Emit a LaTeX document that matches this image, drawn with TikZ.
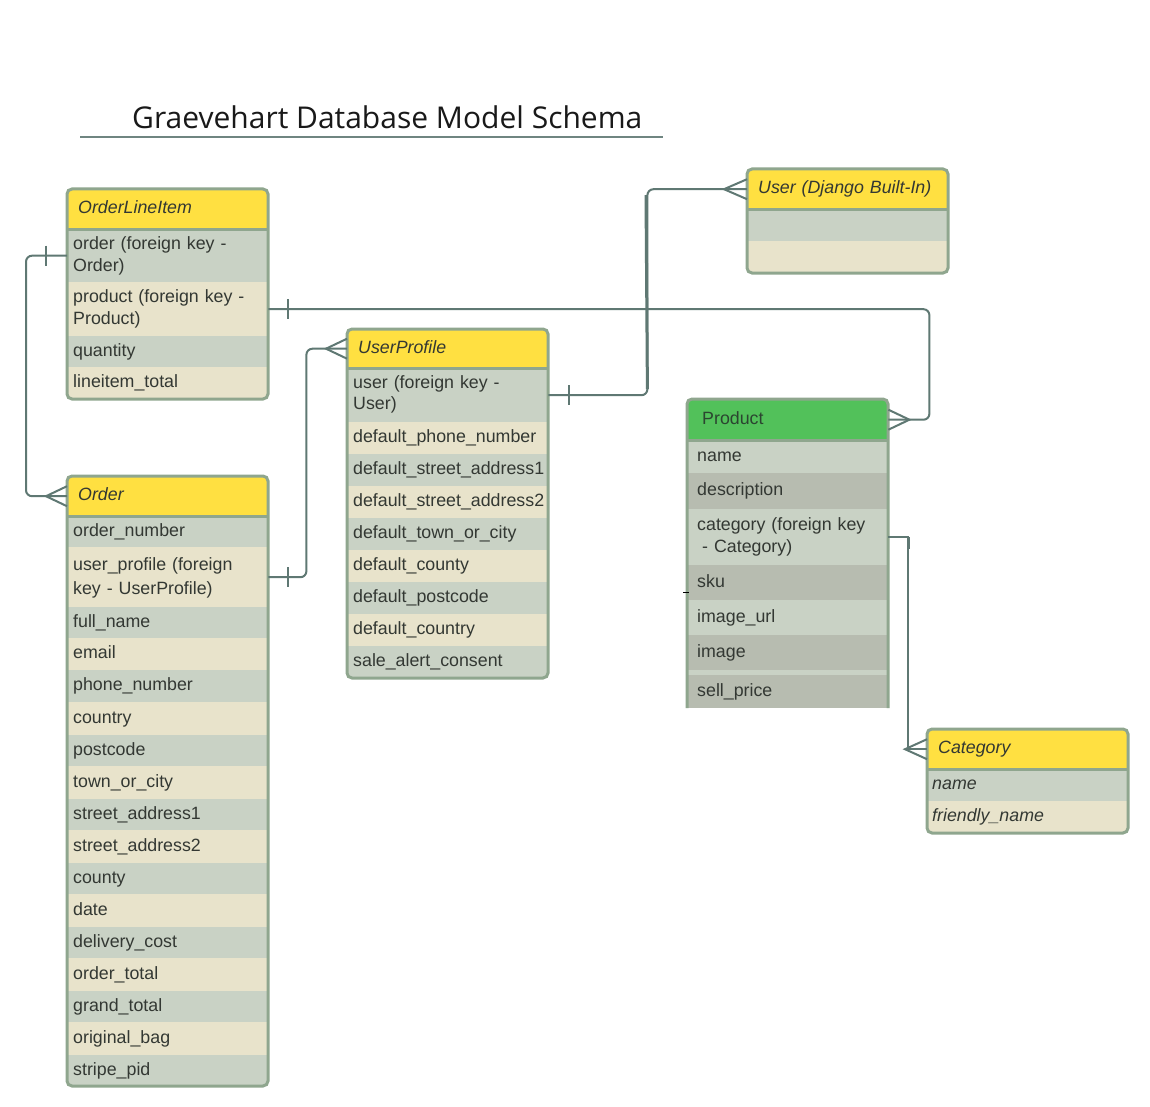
\documentclass[tikz,border=0pt]{standalone}
\usepackage{fontspec}
\setmainfont{Liberation Sans}
\newfontfamily\titlefont{Open Sans}
\usetikzlibrary{calc}
\definecolor{cg}{HTML}{C9D2C5}
\definecolor{bg}{HTML}{E8E3CB}
\definecolor{dg}{HTML}{B7BCB0}
\definecolor{yl}{HTML}{FFE041}
\definecolor{gr}{HTML}{52C15A}
\definecolor{bord}{HTML}{8FA68E}
\definecolor{lc}{HTML}{5F7873}
\definecolor{txt}{HTML}{333833}
\definecolor{ptxt}{HTML}{2B4530}
\tikzset{
  cell/.style={anchor=north west, inner ysep=0pt, align=left, text=txt,
    font=\fontsize{17.8}{22}\selectfont,
    execute at begin node=\strut, execute at end node=\strut},
  row/.style={cell, inner xsep=6pt, text width=189pt},
  prow/.style={cell, inner xsep=10pt, text width=181pt},
  crow/.style={cell, inner xsep=5pt, text width=191pt, font=\fontsize{17.8}{22}\selectfont\itshape},
  hdr/.style={cell, fill=yl, inner xsep=11pt, text width=179pt, minimum height=40pt, font=\fontsize{17.8}{22}\selectfont\itshape},
  phdr/.style={cell, fill=gr, inner xsep=15pt, text width=171pt, minimum height=41pt, text=ptxt},
  frame/.style={draw=bord, line width=3pt, rounded corners=5pt},
  sep/.style={draw=bord, line width=3pt},
  link/.style={draw=lc, line width=2pt, rounded corners=6pt},
  foot/.style={draw=lc, line width=2pt},
  uline/.style={draw=lc!90!white, line width=2pt},
}
\begin{document}
\begin{tikzpicture}[x=1pt,y=-1pt]
\useasboundingbox[fill=white] (0,0) rectangle (1150,1107);

% title
\node[anchor=base west, inner sep=0pt, font=\titlefont\fontsize{30}{34}\selectfont, text=black!90] (title) at (132,129) {Graevehart Database Model Schema};
\coordinate (ulA) at (80,137);
\coordinate (ulB) at (663,137);
\draw[uline] (ulA) -- (ulB);

% ---------- OrderLineItem
\begin{scope}
\clip[rounded corners=5pt] (67,189) rectangle (268,399);
\node[hdr] (oli0) at (67,189) {OrderLineItem};
\node[row, fill=cg, minimum height=53pt] (oli1) at (67,229) {order (foreign key -\\Order)};
\node[row, fill=bg, minimum height=54pt] (oli2) at (67,282) {product (foreign key -\\Product)};
\node[row, fill=cg, minimum height=31pt] (oli3) at (67,336) {quantity};
\node[row, fill=bg, minimum height=32pt] (oli4) at (67,367) {lineitem\_total};
\end{scope}
\draw[frame] (67,189) rectangle (268,399);
\draw[sep] (oli0.south west) -- (oli0.south east);

% ---------- Order
\begin{scope}
\clip[rounded corners=5pt] (67,476) rectangle (268,1086);
\node[hdr] (ord0) at (67,476) {Order};
\node[row, fill=cg, minimum height=31pt] (ord1) at (67,516) {order\_number};
\node[row, fill=bg, minimum height=60pt, font=\fontsize{17.8}{24}\selectfont] (ord2) at (67,547) {user\_profile (foreign\\key - UserProfile)};
\node[row, fill=cg, minimum height=31pt] (ord3) at (67,607) {full\_name};
\node[row, fill=bg, minimum height=32pt] (ord4) at (67,638) {email};
\node[row, fill=cg, minimum height=32pt] (ord5) at (67,670) {phone\_number};
\node[row, fill=bg, minimum height=33pt] (ord6) at (67,702) {country};
\node[row, fill=cg, minimum height=31pt] (ord7) at (67,735) {postcode};
\node[row, fill=bg, minimum height=33pt] (ord8) at (67,766) {town\_or\_city};
\node[row, fill=cg, minimum height=31pt] (ord9) at (67,799) {street\_address1};
\node[row, fill=bg, minimum height=33pt] (ord10) at (67,830) {street\_address2};
\node[row, fill=cg, minimum height=31pt] (ord11) at (67,863) {county};
\node[row, fill=bg, minimum height=33pt] (ord12) at (67,894) {date};
\node[row, fill=cg, minimum height=31pt] (ord13) at (67,927) {delivery\_cost};
\node[row, fill=bg, minimum height=33pt] (ord14) at (67,958) {order\_total};
\node[row, fill=cg, minimum height=31pt] (ord15) at (67,991) {grand\_total};
\node[row, fill=bg, minimum height=33pt] (ord16) at (67,1022) {original\_bag};
\node[row, fill=cg, minimum height=31pt] (ord17) at (67,1055) {stripe\_pid};
\end{scope}
\draw[frame] (67,476) rectangle (268,1086);
\draw[sep] (ord0.south west) -- (ord0.south east);

% ---------- UserProfile
\begin{scope}
\clip[rounded corners=5pt] (347,329) rectangle (548,678);
\node[hdr, minimum height=39pt] (up0) at (347,329) {UserProfile};
\node[row, fill=cg, minimum height=54pt, font=\fontsize{17.8}{21}\selectfont] (up1) at (347,368) {user (foreign key -\\User)};
\node[row, fill=bg, minimum height=32pt] (up2) at (347,422) {default\_phone\_number};
\node[row, fill=cg, minimum height=32pt] (up3) at (347,454) {default\_street\_address1};
\node[row, fill=bg, minimum height=32pt] (up4) at (347,486) {default\_street\_address2};
\node[row, fill=cg, minimum height=32pt] (up5) at (347,518) {default\_town\_or\_city};
\node[row, fill=bg, minimum height=32pt] (up6) at (347,550) {default\_county};
\node[row, fill=cg, minimum height=32pt] (up7) at (347,582) {default\_postcode};
\node[row, fill=bg, minimum height=32pt] (up8) at (347,614) {default\_country};
\node[row, fill=cg, minimum height=32pt] (up9) at (347,646) {sale\_alert\_consent};
\end{scope}
\draw[frame] (347,329) rectangle (548,678);
\draw[sep] (up0.south west) -- (up0.south east);

% ---------- User
\begin{scope}
\clip[rounded corners=5pt] (747,169) rectangle (948,273);
\node[hdr] (usr0) at (747,169) {User (Django Built-In)};
\node[row, fill=cg, minimum height=32pt] (usr1) at (747,209) {};
\node[row, fill=bg, minimum height=32pt] (usr2) at (747,241) {};
\end{scope}
\draw[frame] (747,169) rectangle (948,273);
\draw[sep] (usr0.south west) -- (usr0.south east);

% ---------- Product
\begin{scope}
\clip[rounded corners=5pt] (687,399) rectangle (888,730);
\node[phdr] (prod0) at (687,399) {Product};
\node[prow, fill=cg, minimum height=33pt] (prod1) at (687,440) {name};
\node[prow, fill=dg, minimum height=36pt] (prod2) at (687,473) {description};
\node[prow, fill=cg, minimum height=56pt] (prod3) at (687,509) {category (foreign key\\\hspace*{5pt}- Category)};
\node[prow, fill=dg, minimum height=35pt] (prod4) at (687,565) {sku};
\node[prow, fill=cg, minimum height=35pt] (prod5) at (687,600) {image\_url};
\node[prow, fill=dg, minimum height=35pt] (prod6) at (687,635) {image};
\node[prow, fill=cg, minimum height=5pt, execute at begin node={}, execute at end node={}] (prod7) at (687,670) {};
\node[prow, fill=dg, minimum height=33pt] (prod8) at (687,675) {sell\_price};
\end{scope}
\draw[frame] (687,708) -- (687,399) -- (888,399) -- (888,708);
\draw[sep] (prod0.south west) -- (prod0.south east);
\coordinate (mkA) at (683,592);
\coordinate (mkB) at (689,592);
\draw[black, line width=1pt] (mkA) -- (mkB);

% ---------- Category
\begin{scope}
\clip[rounded corners=5pt] (927,729) rectangle (1128,833);
\node[hdr] (cat0) at (927,729) {Category};
\node[crow, fill=cg, minimum height=32pt] (cat1) at (927,769) {name};
\node[crow, fill=bg, minimum height=32pt] (cat2) at (927,801) {friendly\_name};
\end{scope}
\draw[frame] (927,729) rectangle (1128,833);
\draw[sep] (cat0.south west) -- (cat0.south east);

% ---------- connectors
% OrderLineItem.order -> Order
\draw[link] (oli1.west) -- ++(-41,0) |- (ord0.west);
\draw[foot] ($(oli1.west)+(-21,-10)$) -- ++(0,20);
\draw[foot] ($(ord0.west)+(0,-10)$) -- ($(ord0.west)+(-21,0)$) -- ($(ord0.west)+(0,10)$);

% OrderLineItem.product -> Product
\draw[link] (oli2.east) -| ($(prod0.east)+(41,0)$) -- (prod0.east);
\draw[foot] ($(oli2.east)+(20,-10)$) -- ++(0,20);
\draw[foot] ($(prod0.east)+(0,-10)$) -- ($(prod0.east)+(21,0)$) -- ($(prod0.east)+(0,10)$);

% UserProfile.user -> User
\draw[link] (up1.east) -- ++(99,0) |- (usr0.west);
\draw[draw=lc, line width=3pt] ($(up1.east)+(99,-6)$) -- ($(usr0.west)+(-101,6)$);
\draw[foot] ($(up1.east)+(21,-10)$) -- ++(0,20);
\draw[foot] ($(usr0.west)+(0,-10)$) -- ($(usr0.west)+(-23,0)$) -- ($(usr0.west)+(0,10)$);

% Order.user_profile -> UserProfile
\draw[link] (ord2.east) -- ++(38,0) |- (up0.west);
\draw[foot] ($(ord2.east)+(20,-10)$) -- ++(0,20);
\draw[foot] ($(up0.west)+(0,-10)$) -- ($(up0.west)+(-21,0)$) -- ($(up0.west)+(0,10)$);

% Product.category -> Category
\draw[foot] (prod3.east) -- ++(20,0) |- (cat0.west);
\draw[foot] ($(prod3.east)+(21,0)$) -- ++(0,12);
\draw[foot] ($(cat0.west)+(0,-10)$) -- ($(cat0.west)+(-22,0)$) -- ($(cat0.west)+(0,10)$);
\end{tikzpicture}
\end{document}
